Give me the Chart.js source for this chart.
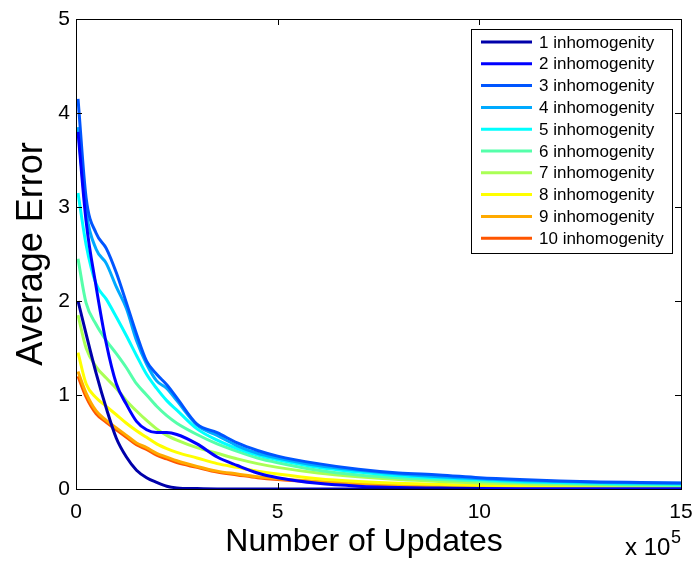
<!DOCTYPE html>
<html>
<head>
<meta charset="utf-8">
<script src="https://cdn.jsdelivr.net/npm/chart.js@4/dist/chart.umd.min.js"></script>
<style>
  html, body { margin: 0; padding: 0; background: #fff; }
  #wrap { width: 695px; height: 561px; }
</style>
</head>
<body>
<div id="wrap"><canvas id="grafico" width="695" height="561"></canvas></div>
<script>
// number of updates (x 10^5)
const updates = [0.05, 0.25, 0.5, 0.75, 1.0, 1.25, 1.5, 1.75, 2.0, 2.25, 2.5, 3.0, 3.5, 4.0, 4.5, 5, 6, 7, 8, 9, 10, 11, 12, 13, 14, 15];

const err1  = [2.0, 1.65, 1.23, 0.86, 0.54, 0.34, 0.2, 0.12, 0.07, 0.03, 0.012, 0.004, 0, 0, 0, 0, 0, 0, 0, 0, 0, null, null, null, null, null];
const err2  = [3.8, 2.85, 2.15, 1.55, 1.12, 0.9, 0.72, 0.63, 0.6, 0.6, 0.58, 0.48, 0.34, 0.25, 0.17, 0.12, 0.06, 0.03, 0.015, 0.01, 0.005, 0.003, 0.003, 0.003, 0.003, 0.003];
const err3  = [4.15, 3.1, 2.72, 2.56, 2.3, 1.98, 1.65, 1.36, 1.22, 1.11, 0.97, 0.69, 0.6, 0.49, 0.41, 0.35, 0.27, 0.21, 0.17, 0.15, 0.12, 0.1, 0.085, 0.075, 0.07, 0.065];
const err4  = [3.85, 2.95, 2.55, 2.4, 2.15, 1.92, 1.58, 1.33, 1.15, 1.07, 0.94, 0.68, 0.57, 0.46, 0.38, 0.33, 0.25, 0.2, 0.16, 0.13, 0.11, 0.09, 0.08, 0.07, 0.065, 0.06];
const err5  = [3.15, 2.6, 2.18, 2.02, 1.83, 1.63, 1.42, 1.22, 1.07, 0.94, 0.84, 0.64, 0.52, 0.43, 0.36, 0.31, 0.23, 0.18, 0.14, 0.12, 0.1, 0.08, 0.07, 0.06, 0.055, 0.05];
const err6  = [2.45, 1.98, 1.75, 1.58, 1.44, 1.29, 1.12, 1.0, 0.88, 0.78, 0.7, 0.58, 0.48, 0.4, 0.33, 0.28, 0.2, 0.15, 0.12, 0.1, 0.085, 0.07, 0.06, 0.05, 0.045, 0.04];
const err7  = [1.85, 1.5, 1.3, 1.18, 1.07, 0.94, 0.83, 0.73, 0.64, 0.57, 0.52, 0.44, 0.38, 0.32, 0.27, 0.23, 0.17, 0.13, 0.1, 0.08, 0.065, 0.055, 0.045, 0.04, 0.035, 0.03];
const err8  = [1.45, 1.12, 0.97, 0.88, 0.79, 0.7, 0.62, 0.55, 0.48, 0.43, 0.39, 0.33, 0.27, 0.23, 0.19, 0.16, 0.11, 0.08, 0.06, 0.05, 0.04, 0.035, 0.03, 0.028, 0.025, 0.025];
const err9  = [1.25, 1.02, 0.83, 0.73, 0.65, 0.57, 0.49, 0.44, 0.38, 0.34, 0.3, 0.24, 0.19, 0.16, 0.13, 0.11, 0.08, 0.06, 0.045, 0.036, 0.03, 0.026, 0.024, 0.023, 0.022, 0.022];
const err10 = [1.2, 0.98, 0.8, 0.71, 0.63, 0.55, 0.47, 0.42, 0.36, 0.32, 0.28, 0.23, 0.18, 0.15, 0.12, 0.1, 0.075, 0.055, 0.04, 0.032, 0.025, 0.022, 0.02, 0.02, 0.02, 0.02];

const seriesNames = ["1 inhomogenity", "2 inhomogenity", "3 inhomogenity", "4 inhomogenity", "5 inhomogenity",
                     "6 inhomogenity", "7 inhomogenity", "8 inhomogenity", "9 inhomogenity", "10 inhomogenity"];
const seriesValues = [err1, err2, err3, err4, err5, err6, err7, err8, err9, err10];
// jet(10)
const jet = ["#0000AA", "#0000FF", "#0055FF", "#00AAFF", "#00FFFF", "#55FFAA", "#AAFF55", "#FFFF00", "#FFAA00", "#FF5500"];

const xTicks = [0, 5, 10, 15];
const yTicks = [0, 1, 2, 3, 4, 5];

const FONT = "'Liberation Sans', Arial, Helvetica, sans-serif";

const datasets = seriesValues.map((vals, i) => ({
  label: seriesNames[i],
  data: updates.map((x, j) => ({ x: x, y: vals[j] })),
  borderColor: jet[i],
  backgroundColor: jet[i],
  borderWidth: 3,
  pointRadius: 0,
  cubicInterpolationMode: "monotone",
  spanGaps: false
}));

// box, inward ticks, titles, legend
const molduraPlugin = {
  id: "moldura",
  afterDatasetsDraw(chart) {
    const { ctx, chartArea: a, scales } = chart;
    ctx.save();
    ctx.strokeStyle = "#000";
    ctx.lineWidth = 1;
    ctx.strokeRect(a.left + 0.5, a.top + 0.5, a.right - a.left, a.bottom - a.top);
    const t = 6;
    ctx.beginPath();
    xTicks.forEach(v => {
      const px = Math.round(scales.x.getPixelForValue(v)) + 0.5;
      ctx.moveTo(px, a.bottom); ctx.lineTo(px, a.bottom - t);
      ctx.moveTo(px, a.top); ctx.lineTo(px, a.top + t);
    });
    yTicks.forEach(v => {
      const py = Math.round(scales.y.getPixelForValue(v)) + 0.5;
      ctx.moveTo(a.left, py); ctx.lineTo(a.left + t, py);
      ctx.moveTo(a.right, py); ctx.lineTo(a.right - t, py);
    });
    ctx.stroke();

    // axis titles
    ctx.fillStyle = "#000";
    ctx.textAlign = "center";
    ctx.textBaseline = "alphabetic";
    ctx.font = "32px " + FONT;
    ctx.fillText("Number of Updates", 364, 551);
    ctx.save();
    ctx.translate(42, 254);
    ctx.rotate(-Math.PI / 2);
    ctx.font = "36px " + FONT;
    ctx.fillText("Average Error", 0, 0);
    ctx.restore();

    // exponent label
    ctx.textAlign = "left";
    ctx.font = "24px " + FONT;
    ctx.fillText("x 10", 625, 555);
    ctx.font = "18px " + FONT;
    ctx.fillText("5", 671, 543);

    // legend
    const lx = 471, ly = 29, lw = 201, lh = 224;
    ctx.fillStyle = "#fff";
    ctx.fillRect(lx, ly, lw, lh);
    ctx.lineWidth = 1;
    ctx.strokeRect(lx + 0.5, ly + 0.5, lw, lh);
    ctx.font = "17px " + FONT;
    ctx.textBaseline = "middle";
    chart.data.datasets.forEach((ds, i) => {
      const y = 42 + i * 21.8;
      ctx.strokeStyle = ds.borderColor;
      ctx.lineWidth = 3;
      ctx.beginPath();
      ctx.moveTo(481, y); ctx.lineTo(532, y);
      ctx.stroke();
      ctx.fillStyle = "#000";
      ctx.fillText(ds.label, 539, y + 1);
    });
    ctx.restore();
  }
};

new Chart(document.getElementById("grafico"), {
  type: "line",
  data: { datasets },
  options: {
    responsive: false,
    animation: false,
    layout: { padding: { left: 0, right: 14, top: 19, bottom: 0 } },
    plugins: { legend: { display: false }, tooltip: { enabled: false } },
    scales: {
      x: {
        type: "linear",
        min: 0, max: 15,
        afterBuildTicks: s => { s.ticks = xTicks.map(v => ({ value: v })); },
        afterFit: s => { s.height = 72; s.paddingLeft = 0; s.paddingRight = 0; },
        grid: { display: false, drawTicks: false },
        border: { display: false },
        ticks: { color: "#000", font: { family: FONT, size: 21 }, padding: 11, maxRotation: 0 }
      },
      y: {
        min: 0, max: 5,
        afterBuildTicks: s => { s.ticks = yTicks.map(v => ({ value: v })); },
        afterFit: s => { s.width = 76; s.paddingTop = 0; s.paddingBottom = 0; },
        grid: { display: false, drawTicks: false },
        border: { display: false },
        ticks: { color: "#000", font: { family: FONT, size: 21 }, padding: 6 }
      }
    }
  },
  plugins: [molduraPlugin]
});
</script>
</body>
</html>
